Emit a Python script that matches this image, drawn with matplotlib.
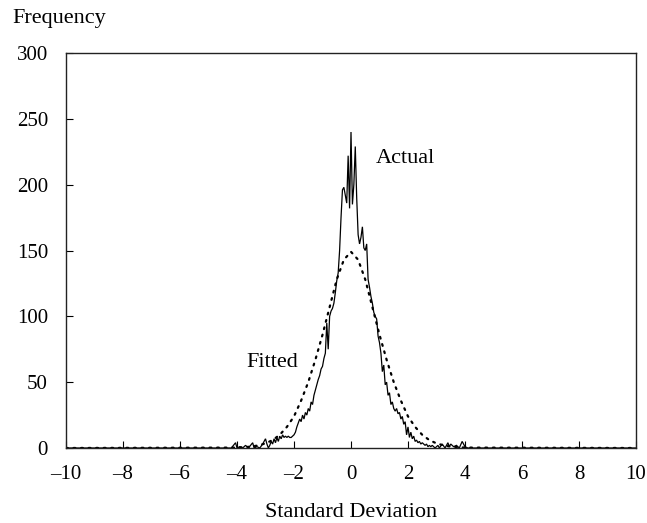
import matplotlib
matplotlib.use("Agg")
import matplotlib.pyplot as plt

plt.rcParams['font.family'] = ['Liberation Serif', 'DejaVu Serif']

# Actual frequency (jagged histogram line)
actual_x = [-10.0, -4.5, -4.2, -4.05, -4.0, -3.9, -3.8, -3.7, -3.6, -3.45, -3.4, -3.3, -3.2, -3.1,
            -3.0, -2.95, -2.9, -2.85, -2.8, -2.75, -2.7, -2.65, -2.6, -2.55, -2.5, -2.45, -2.4, -2.35,
            -2.3, -2.25, -2.2, -2.15, -2.1, -2.05, -2.0, -1.95, -1.9, -1.85, -1.8, -1.75, -1.7, -1.65,
            -1.6, -1.55, -1.5, -1.45, -1.4, -1.35, -1.3, -1.25, -1.2, -1.15, -1.1, -1.05, -1.0, -0.95,
            -0.9, -0.85, -0.8, -0.75, -0.7, -0.65, -0.6, -0.55, -0.5, -0.45, -0.4, -0.35, -0.3, -0.25,
            -0.2, -0.15, -0.1, -0.05, 0.0, 0.05, 0.1, 0.15, 0.2, 0.25, 0.3, 0.35, 0.4, 0.45,
            0.5, 0.55, 0.6, 0.65, 0.7, 0.75, 0.8, 0.85, 0.9, 0.95, 1.0, 1.05, 1.1, 1.15,
            1.2, 1.25, 1.3, 1.35, 1.4, 1.45, 1.5, 1.55, 1.6, 1.65, 1.7, 1.75, 1.8, 1.85,
            1.9, 1.95, 2.0, 2.05, 2.1, 2.15, 2.2, 2.25, 2.3, 2.35, 2.4, 2.45, 2.5, 2.55,
            2.6, 2.65, 2.7, 2.75, 2.8, 2.85, 2.9, 2.95, 3.0, 3.05, 3.1, 3.2, 3.3, 3.4,
            3.45, 3.5, 3.6, 3.7, 3.8, 3.9, 3.95, 4.0, 4.1, 10.0]
actual_y = [0, 0, 0, 4, 0, 1, 0, 2, 0, 4, 0, 1, 0, 3,
            7, 3, 0, 2, 5, 3, 7, 4, 8, 5, 9, 7, 10, 8,
            9, 8, 9, 8, 8, 9, 10, 12, 16, 19, 22, 20, 25, 22,
            27, 25, 30, 28, 35, 33, 40, 44, 48, 52, 55, 60, 62, 68,
            72, 95, 75, 100, 104, 106, 110, 118, 127, 133, 150, 175, 196, 198,
            192, 186, 222, 182, 240, 185, 200, 229, 190, 162, 155, 160, 168, 152,
            150, 155, 128, 122, 115, 110, 103, 100, 98, 85, 80, 72, 58, 63,
            48, 50, 40, 42, 33, 35, 30, 28, 30, 26, 27, 22, 24, 18,
            20, 10, 16, 8, 12, 7, 9, 5, 6, 4, 5, 3, 4, 3,
            2, 3, 1, 2, 1, 2, 1, 0, 1, 2, 0, 3, 0, 4,
            1, 3, 1, 2, 0, 5, 3, 1, 0, 0]

# Fitted curve (dotted)
fitted_x = [-10.0, -4.0, -3.5, -3.25, -3.0, -2.75, -2.5, -2.25, -2.0, -1.75, -1.5, -1.25, -1.0, -0.75,
            -0.5, -0.25, 0.0, 0.25, 0.5, 0.75, 1.0, 1.25, 1.5, 1.75, 2.0, 2.25, 2.5, 2.75,
            3.0, 3.25, 3.5, 4.0, 10.0]
fitted_y = [0, 0.3, 1, 2, 3.5, 6, 10, 16, 24, 36, 50, 67, 86, 107,
            128, 143, 149, 143, 128, 107, 86, 67, 50, 36, 24, 16, 10, 6,
            3.5, 2, 1, 0.3, 0]

x_ticks = [-10, -8, -6, -4, -2, 0, 2, 4, 6, 8, 10]
y_ticks = [0, 50, 100, 150, 200, 250, 300]

FS = 16
TFS = 15

fig = plt.figure(figsize=(6.47, 5.23), dpi=100)
ax = fig.add_axes([66/647, 75/523, 570/647, 395/523])

ax.plot(actual_x, actual_y, color='black', lw=0.9, solid_joinstyle='miter')
ax.plot(fitted_x, fitted_y, color='black', lw=1.6, linestyle=(0, (0.8, 2.6)), dash_capstyle='round')

ax.set_xlim(-10, 10)
ax.set_ylim(0, 300)
ax.set_xticks(x_ticks)
ax.set_yticks(y_ticks)
ax.set_xticklabels([f"\u2013{abs(t)}" if t < 0 else str(t) for t in x_ticks])
ax.tick_params(axis='both', direction='in', length=5, width=0.8, labelsize=TFS, colors='black')
ax.tick_params(axis='x', pad=12)
ax.tick_params(axis='y', pad=13)
for s in ax.spines.values():
    s.set_linewidth(1.0)
    s.set_color('#222222')

ax.set_xlabel('Standard Deviation', fontsize=FS, labelpad=14)
fig.text(12/647, 1 - 18/523, 'Frequency', fontsize=FS, ha='left', va='center')

ax.text(1.9, 220, 'Actual', fontsize=FS, ha='center', va='center')
ax.text(-2.75, 65, 'Fitted', fontsize=FS, ha='center', va='center')

fig.savefig('out.png', dpi=100)
